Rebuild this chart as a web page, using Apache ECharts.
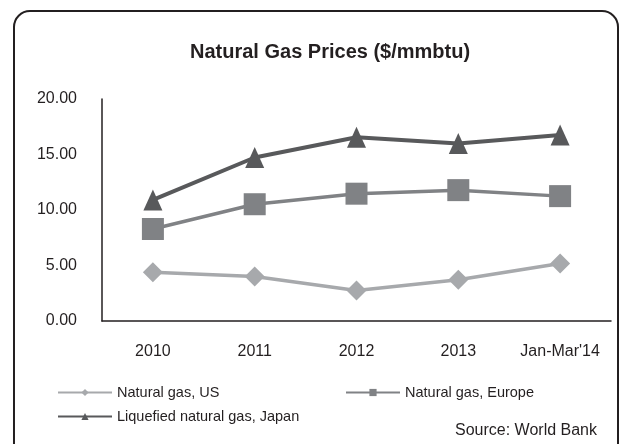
<!DOCTYPE html>
<html>
<head>
<meta charset="utf-8">
<script src="https://cdn.jsdelivr.net/npm/echarts@6/dist/echarts.min.js"></script>
<style>
  html, body { margin: 0; padding: 0; background: #fff; }
  #main { width: 622px; height: 444px; }
</style>
</head>
<body>
<div id="main"></div>
<script>
var categories = ['2010', '2011', '2012', '2013', "Jan-Mar'14"];
var usGas = [4.39, 4.0, 2.75, 3.71, 5.18];
var europeGas = [8.29, 10.52, 11.47, 11.79, 11.25];
var japanLng = [10.91, 14.73, 16.55, 16.0, 16.75];
var yTicks = [0, 5, 10, 15, 20];

var font = '"Liberation Sans", Arial, sans-serif';
var textColor = '#231f20';

var myChart = echarts.init(document.getElementById('main'));

var option = {
    backgroundColor: '#fff',
    animation: false,
    title: {
        text: 'Natural Gas Prices ($/mmbtu)',
        left: 185,
        top: 37,
        textStyle: {
            fontFamily: font,
            fontSize: 20,
            fontWeight: 'bold',
            color: textColor
        }
    },
    grid: {
        left: 102,
        right: 11,
        top: 99,
        bottom: 123,
        containLabel: false
    },
    xAxis: {
        type: 'category',
        data: categories,
        boundaryGap: true,
        axisLine: { lineStyle: { color: '#231f20', width: 1.5 } },
        axisTick: { show: false },
        axisLabel: {
            interval: 0,
            margin: 23,
            fontFamily: font,
            fontSize: 16,
            color: textColor
        }
    },
    yAxis: {
        type: 'value',
        min: yTicks[0],
        max: yTicks[yTicks.length - 1],
        interval: 5,
        axisLine: { show: true, lineStyle: { color: '#231f20', width: 1.5 } },
        axisTick: { show: false },
        splitLine: { show: false },
        axisLabel: {
            margin: 25,
            fontFamily: font,
            fontSize: 16,
            color: textColor,
            formatter: function (v) { return v.toFixed(2); }
        }
    },
    legend: [
        {
            data: ['Natural gas, US'],
            left: 52,
            top: 380,
            itemWidth: 54,
            itemHeight: 9,
            itemGap: 6,
            textStyle: { fontFamily: font, fontSize: 14.5, color: textColor }
        },
        {
            data: ['Natural gas, Europe'],
            left: 340,
            top: 380,
            itemWidth: 54,
            itemHeight: 9,
            textStyle: { fontFamily: font, fontSize: 14.5, color: textColor }
        },
        {
            data: ['Liquefied natural gas, Japan'],
            left: 52,
            top: 404,
            itemWidth: 54,
            itemHeight: 9,
            textStyle: { fontFamily: font, fontSize: 14.5, color: textColor }
        }
    ],
    graphic: [
        {
            type: 'rect',
            shape: { x: 14, y: 11, width: 604, height: 450, r: 16 },
            style: { fill: 'none', stroke: '#231f20', lineWidth: 2 },
            silent: true
        },
        {
            type: 'text',
            right: 25,
            top: 423,
            style: {
                text: 'Source: World Bank',
                font: '16px ' + font,
                fill: textColor
            }
        }
    ],
    series: [
        {
            name: 'Natural gas, US',
            type: 'line',
            data: usGas,
            symbol: 'diamond',
            symbolSize: 20,
            lineStyle: { color: '#a7a9ac', width: 3.5 },
            itemStyle: { color: '#a7a9ac' }
        },
        {
            name: 'Natural gas, Europe',
            type: 'line',
            data: europeGas,
            symbol: 'rect',
            symbolSize: 22,
            lineStyle: { color: '#808285', width: 3.5 },
            itemStyle: { color: '#808285' }
        },
        {
            name: 'Liquefied natural gas, Japan',
            type: 'line',
            data: japanLng,
            symbol: 'triangle',
            symbolSize: [19, 21],
            lineStyle: { color: '#58595b', width: 4 },
            itemStyle: { color: '#58595b' }
        }
    ]
};

myChart.setOption(option);
</script>
</body>
</html>
